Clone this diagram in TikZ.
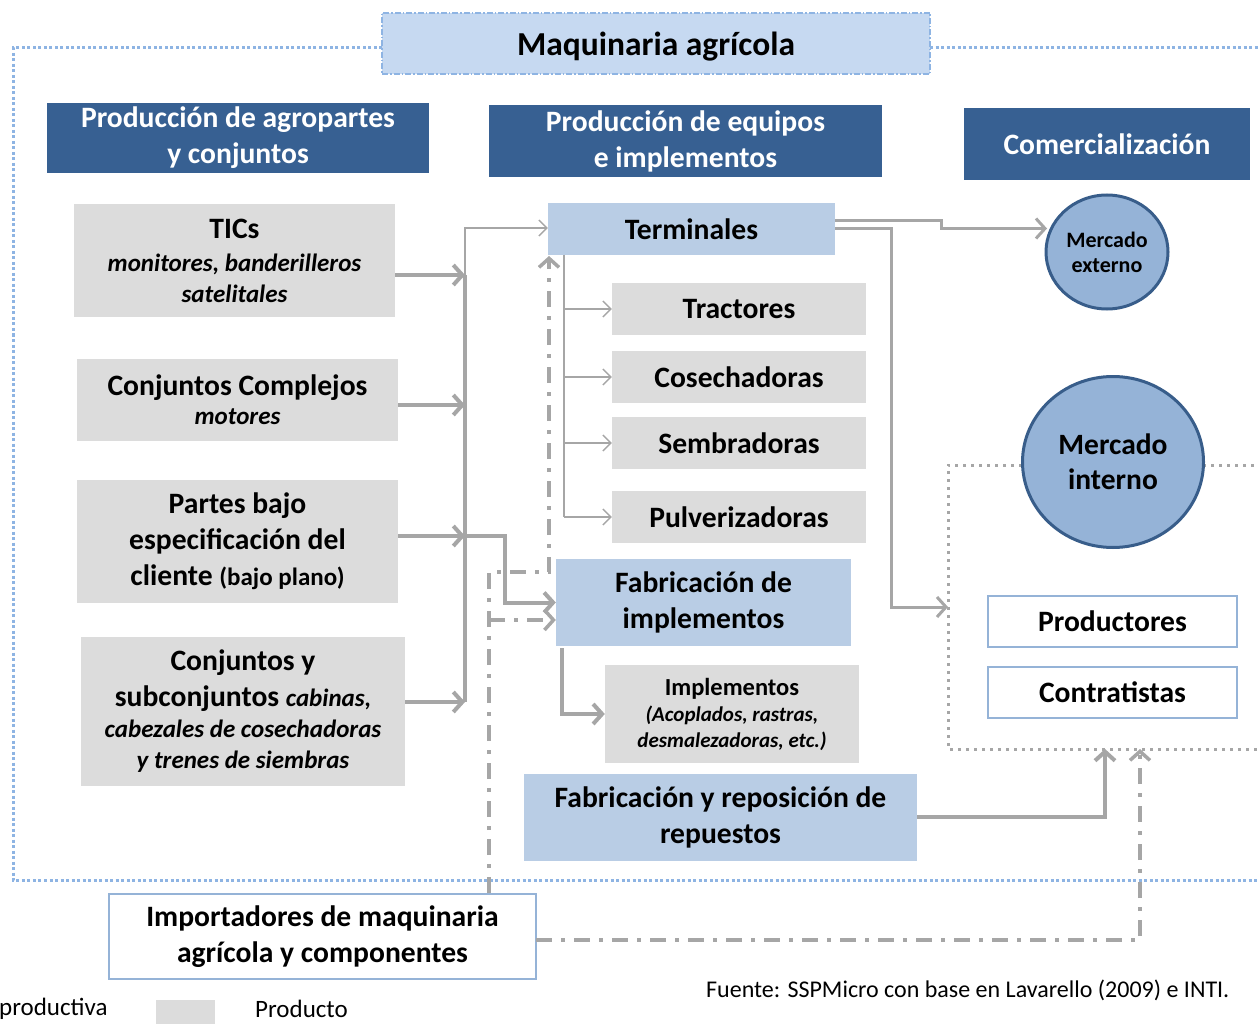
\documentclass[tikz,border=0pt]{standalone}
\usepackage{fontspec}
\setmainfont{Carlito}
\usetikzlibrary{arrows.meta,shapes.geometric}
\definecolor{hdrblue}{RGB}{55,96,146}
\definecolor{boxblue}{RGB}{185,205,229}
\definecolor{titleblue}{RGB}{198,217,241}
\definecolor{boxgray}{RGB}{220,220,220}
\definecolor{linegray}{RGB}{166,166,166}
\definecolor{circfill}{RGB}{149,179,215}
\definecolor{circline}{RGB}{56,93,138}
\definecolor{frameblue}{RGB}{142,180,227}
\definecolor{wboxline}{RGB}{149,179,215}
\tikzset{
  fs/.style 2 args={font=\fontsize{#1}{#2}\selectfont\bfseries},
  hdr/.style={fill=hdrblue, text=white, inner sep=0pt, align=center, fs={29.6}{36}},
  gbox/.style={fill=boxgray, inner sep=0pt, align=center, fs={29.6}{36}},
  bbox/.style={fill=boxblue, inner sep=0pt, align=center, fs={29.6}{36}},
  wbox/.style={draw=wboxline, line width=1.3pt, fill=white, inner sep=0pt, align=center, fs={29.6}{36}},
  circ/.style={ellipse, draw=circline, line width=3pt, fill=circfill, inner sep=0pt, align=center},
  thk/.style={draw=linegray, line width=4pt},
  thn/.style={draw=linegray, line width=1.5pt},
  ddot/.style={draw=linegray, line width=3.5pt, dash pattern=on 16pt off 9pt on 4pt off 9pt},
  bigarr/.style={-{Straight Barb[length=9pt,width=20pt,line width=4pt]}},
  smallarr/.style={-{Straight Barb[length=8pt,width=16pt,line width=1.3pt]}},
}
\newcommand{\subit}[1]{{\fontsize{25}{30}\selectfont\itshape #1}}
\begin{document}
\begin{tikzpicture}[x=1pt,y=-1pt]
\useasboundingbox (0,0) rectangle (1258,1024);
% outer frame
\draw[frameblue, line width=3pt, dash pattern=on 3pt off 2.5pt] (382,48) -- (13,48) -- (13,880) -- (1270,880);
\draw[frameblue, line width=3pt, dash pattern=on 3pt off 2.5pt] (930,48) -- (1270,48);
% title
\node[fill=titleblue, draw=frameblue, line width=1.3pt, dash pattern=on 6pt off 2pt on 1.5pt off 2pt, minimum width=548, minimum height=61, inner sep=0pt] (title) at (656,43.5) {};
\node[inner sep=0pt, fs={33.5}{40}] (titletext) at (656,46.5) {Maquinaria agrícola};
% headers
\node[hdr, minimum width=382, minimum height=70] (h1) at (238,138) {Producción de agropartes\\y conjuntos};
\node[hdr, minimum width=393, minimum height=72] (h2) at (685.5,141) {Producción de equipos\\e implementos};
\node[hdr, minimum width=286, minimum height=72] (h3) at (1107,144) {Comercialización};
% left gray boxes
\node[gbox, minimum width=321, minimum height=113] (tics) at (234.5,260.5) {TICs\\[-3pt]\subit{monitores, banderilleros}\\[-5pt]\subit{satelitales}};
\node[gbox, minimum width=321, minimum height=82] (cc) at (237.5,400) {Conjuntos Complejos\\[-7pt]\subit{motores}};
\node[gbox, minimum width=321, minimum height=123] (partes) at (237.5,541) {Partes bajo\\especificación del\\cliente {\fontsize{25}{30}\selectfont(bajo plano)}};
\node[gbox, minimum width=324, minimum height=149] (cy) at (243,711) {Conjuntos y\\subconjuntos \subit{cabinas,}\\[-5pt]\subit{cabezales de cosechadoras}\\[-5pt]\subit{y trenes de siembras}};
% blue boxes
\node[bbox, minimum width=287, minimum height=52] (term) at (691.5,229) {Terminales};
\node[bbox, minimum width=295, minimum height=87] (fab) at (703.5,602.5) {Fabricación de\\implementos};
\node[bbox, minimum width=393, minimum height=87] (rep) at (720.5,817) {Fabricación y reposición de\\repuestos};
% products
\node[gbox, minimum width=254, minimum height=52] (trac) at (739,309) {Tractores};
\node[gbox, minimum width=254, minimum height=52] (cos) at (739,377) {Cosechadoras};
\node[gbox, minimum width=254, minimum height=52] (sem) at (739,443) {Sembradoras};
\node[gbox, minimum width=254, minimum height=52] (pul) at (739,517) {Pulverizadoras};
\node[gbox, minimum width=254, minimum height=98, fs={24.5}{28}] (impl) at (732,714) {Implementos\\[-2pt]{\fontsize{21}{28}\selectfont\itshape (Acoplados, rastras,}\\[-2pt]{\fontsize{21}{28}\selectfont\itshape desmalezadoras, etc.)}};
% market frame
\draw[linegray, line width=3pt, dash pattern=on 3pt off 5pt] (1270,465) -- (948,465) -- (948,749) -- (1270,749);
\coordinate (fr1) at (948,607);
\coordinate (fr2) at (1105,749);
\coordinate (fr3) at (1140,749);
% circles
\node[circ, minimum width=122, minimum height=114, fs={22}{28}] (mext) at (1107,252) {Mercado\\[-3pt]externo};
\node[circ, minimum width=181, minimum height=171, fs={29.5}{36}] (mint) at (1113,462) {Mercado\\[-1pt]interno};
% white boxes
\node[wbox, minimum width=249, minimum height=51] (prod) at (1112.5,621.5) {Productores};
\node[wbox, minimum width=249, minimum height=51] (contr) at (1112.5,692.5) {Contratistas};
\node[wbox, minimum width=427, minimum height=85] (imp) at (322.5,936.5) {Importadores de maquinaria\\agrícola y componentes};
% texts
\node[anchor=west, inner sep=0pt, font=\fontsize{24}{28}\selectfont] (fuente) at (706,990) {Fuente: SSPMicro con base en Lavarello (2009) e INTI.};
\node[anchor=west, inner sep=0pt, font=\fontsize{25}{28}\selectfont] (leg1) at (-1,1009) {productiva};
\node[fill=boxgray, minimum width=59, minimum height=26, inner sep=0pt] (legbox) at (185.5,1013) {};
\node[anchor=west, inner sep=0pt, font=\fontsize{25}{28}\selectfont] (leg2) at (255,1009) {Producto};
% bus
\coordinate (bus1) at (465,275);
\coordinate (bus2) at (465,405);
\coordinate (bus3) at (465,536);
\coordinate (bus4) at (465,702);
\coordinate (bustop) at (465,228);
\draw[thn, smallarr] (bus1) -- (bustop) -- (term.west |- bustop);
\draw[thk] (bus1) -- (bus4);
\draw[thk, bigarr] (tics.east |- bus1) -- (bus1);
\draw[thk, bigarr] (cc.east |- bus2) -- (bus2);
\draw[thk, bigarr] (partes.east |- bus3) -- (bus3);
\draw[thk, bigarr] (cy.east |- bus4) -- (bus4);
\coordinate (bj) at (505,536);
\draw[thk, bigarr] (bus3) -- (bj) |- (fab.west);
% terminales branches
\coordinate (t0) at (564,255);
\draw[thn] (t0) -- (t0 |- pul.west);
\draw[thn, smallarr] (t0 |- trac.west) -- (trac.west);
\draw[thn, smallarr] (t0 |- cos.west) -- (cos.west);
\draw[thn, smallarr] (t0 |- sem.west) -- (sem.west);
\draw[thn, smallarr] (t0 |- pul.west) -- (pul.west);
% terminales to markets
\coordinate (te1) at (835,221);
\coordinate (te2) at (835,229);
\coordinate (mx) at (1047,228.5);
\draw[draw=linegray, line width=3pt, -{Straight Barb[length=9pt,width=20pt,line width=3pt]}] (te1) -- (941,221) -- (941,228.5) -- (mx);
\draw[draw=linegray, line width=3pt, -{Straight Barb[length=9pt,width=20pt,line width=3pt]}] (te2) -- (891,229) -- (891,607) -- (fr1);
% fab to implementos
\coordinate (f0) at (562,648);
\draw[thk, bigarr] (f0) |- (impl.west);
% repuestos to market
\draw[thk, bigarr] (rep.east) -| (fr2);
% importers
\coordinate (i0) at (489,893);
\coordinate (i1) at (489,572);
\coordinate (i2) at (549,572);
\coordinate (i3) at (549,256);
\coordinate (i4) at (489,620);
\draw[ddot, -{Straight Barb[length=9pt,width=20pt,line width=3.5pt]}] (i0) -- (i1) -- (i2) -- (i3);
\draw[ddot, -{Straight Barb[length=9pt,width=20pt,line width=3.5pt]}] (i4) -- (fab.west |- i4);
\coordinate (i5) at (536,940);
\draw[ddot, -{Straight Barb[length=9pt,width=20pt,line width=3.5pt]}] (i5) -- (1140,940) -- (fr3);
\end{tikzpicture}
\end{document}
